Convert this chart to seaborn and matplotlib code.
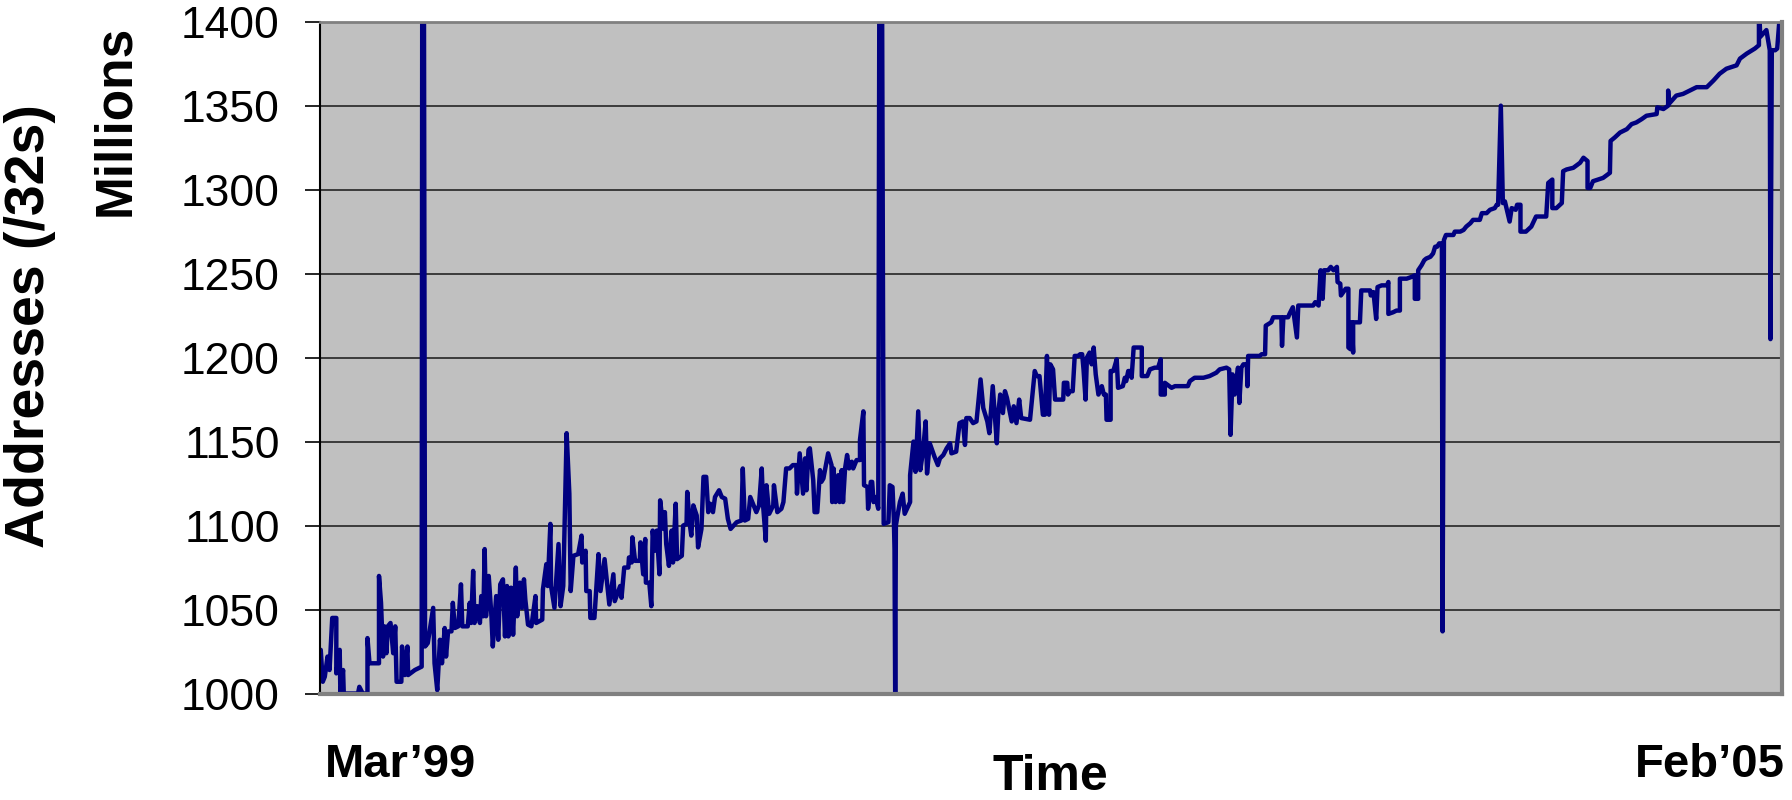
import matplotlib
matplotlib.use("Agg")
import matplotlib.pyplot as plt
import seaborn as sns
import pandas as pd

# days since 1 Mar 1999, value in millions of addresses (/32s)
days = [
    1, 4, 7, 11, 14, 18, 24, 24, 29, 30, 34, 35, 56, 58, 63, 70, 70, 73, 87, 87,
    90, 93, 95, 98, 100, 104, 108, 111, 113, 120, 121, 125, 129, 130, 140, 150, 151, 153, 155, 159,
    167, 169, 173, 177, 180, 184, 186, 189, 194, 196, 199, 204, 208, 210, 218, 221, 223, 226, 228, 232,
    236, 238, 241, 243, 245, 249, 253, 255, 260, 263, 266, 270, 273, 276, 278, 282, 285, 289, 291, 295,
    298, 301, 303, 307, 312, 318, 319, 328, 329, 334, 336, 340, 341, 346, 352, 355, 359, 364,
    368, 370, 374, 381, 386, 387, 392, 393, 398, 399, 405, 407, 411, 414, 420, 427, 433, 435, 443, 445,
    449, 455, 456, 460, 461, 465, 472, 473, 477, 480, 481, 486, 489, 491, 494, 497, 501, 502, 507, 509,
    511, 515, 519, 521, 525, 527, 534, 536, 541, 542, 546, 548, 551, 556, 558, 563, 566, 570, 573, 576,
    580, 583, 589, 593, 598, 600, 602, 606, 615, 622, 624, 627, 632, 635, 638, 644, 648, 652, 654, 658,
    659, 663, 669, 670, 675, 681, 684, 688, 693, 698, 703, 704, 708, 713, 716, 718, 721,
    723, 728, 730, 734, 738, 740, 743, 750, 755, 756, 758, 761, 765, 767, 770, 772, 775, 778, 781, 785,
    787, 792, 797, 797, 802, 803, 808, 809, 813, 815, 817, 820, 824, 826, 829, 832, 839, 841, 845, 847,
    848, 849, 850, 852, 856, 860, 863, 871, 871, 876, 879, 883, 886, 890, 894, 896, 900, 907, 912, 915,
    920, 925, 930, 932, 939, 944, 949, 952, 954, 959, 964, 969, 975, 979, 985, 988, 993, 996, 999, 1001,
    1004, 1008, 1011, 1014, 1018, 1021, 1024, 1028, 1032, 1035, 1048, 1055, 1058, 1062, 1067, 1070, 1073, 1076, 1078, 1082,
    1085, 1094, 1097, 1098, 1103, 1104, 1107, 1111, 1114, 1119, 1122, 1125, 1127, 1130, 1132, 1136, 1139, 1142, 1145, 1149,
    1154, 1157, 1160, 1161, 1167, 1167, 1171, 1176, 1178, 1185, 1188, 1190, 1193, 1196, 1198, 1201, 1213, 1213, 1221, 1225,
    1232, 1237, 1241, 1241, 1247, 1247, 1257, 1262, 1272, 1281, 1284, 1291, 1304, 1313, 1323, 1328, 1338, 1342, 1344, 1347,
    1350, 1355, 1357, 1360, 1363, 1368, 1369, 1370, 1377, 1387, 1390, 1395, 1396, 1400, 1404, 1407, 1417, 1419, 1420, 1422,
    1429, 1431, 1436, 1442, 1444,
    1447, 1466, 1469, 1474, 1477, 1480, 1482, 1488, 1492, 1496, 1501, 1502, 1506, 1507, 1514, 1518, 1518, 1521, 1523, 1525,
    1525, 1535, 1537, 1545, 1550, 1551, 1555, 1559, 1561, 1567, 1575, 1577, 1577, 1584, 1589, 1594, 1594, 1604, 1611, 1616,
    1616, 1621, 1621, 1626, 1630, 1633, 1639, 1643, 1646, 1649, 1652, 1656, 1657, 1659, 1662, 1673, 1675, 1683, 1688, 1692,
    1698, 1702, 1712, 1715, 1722, 1727, 1734, 1737, 1739, 1743, 1746, 1749, 1756, 1759, 1765, 1767, 1772, 1772, 1780, 1788,
    1795, 1810,
    1813, 1819, 1819, 1825, 1833, 1835, 1840, 1850, 1860, 1865, 1871, 1871, 1875, 1879, 1894, 1904, 1905, 1911, 1919, 1929,
    1936, 1943, 1951, 1958, 1973, 1974, 1983, 1990, 1990, 1991, 2002, 2012, 2022, 2032, 2047, 2057, 2066, 2076, 2091, 2096,
    2106, 2118, 2124, 2124, 2126, 2135, 2140, 2141, 2143, 2148, 2151, 2156,
]

addresses = [
    1026, 1007, 1010, 1022, 1014, 1045, 1045, 1012, 1026, 1000, 1014, 1000, 1000, 1004, 1000, 1000, 1033, 1018, 1018, 1070,
    1054, 1022, 1040, 1024, 1040, 1042, 1024, 1040, 1007, 1007, 1028, 1011, 1028, 1011, 1014, 1016, 1500, 1500, 1028, 1030,
    1051, 1018, 1002, 1032, 1018, 1039, 1022, 1037, 1037, 1054, 1039, 1040, 1065, 1040, 1040, 1054, 1042, 1073, 1042, 1052,
    1042, 1058, 1046, 1086, 1046, 1070, 1046, 1028, 1058, 1032, 1065, 1068, 1034, 1064, 1034, 1063, 1035, 1075, 1046, 1066,
    1051, 1068, 1056, 1041, 1040, 1058, 1042, 1044, 1062, 1077, 1064, 1101, 1064, 1051, 1089, 1052, 1064, 1155,
    1119, 1061, 1082, 1083, 1094, 1078, 1085, 1061, 1061, 1045, 1045, 1058, 1083, 1061, 1080, 1053, 1071, 1055, 1064, 1057,
    1075, 1075, 1081, 1078, 1093, 1079, 1079, 1090, 1071, 1092, 1066, 1066, 1052, 1097, 1085, 1097, 1071, 1115, 1098, 1108,
    1089, 1076, 1097, 1078, 1113, 1080, 1082, 1100, 1101, 1120, 1100, 1094, 1112, 1106, 1087, 1098, 1129, 1129, 1108, 1113,
    1108, 1117, 1121, 1117, 1116, 1110, 1104, 1098, 1102, 1103, 1134, 1103, 1104, 1117, 1114, 1108, 1112, 1134, 1112, 1091,
    1124, 1107, 1112, 1124, 1108, 1110, 1114, 1134, 1134, 1136, 1136, 1119, 1143, 1119, 1140, 1121, 1145,
    1146, 1127, 1108, 1108, 1133, 1126, 1128, 1143, 1136, 1114, 1134, 1114, 1130, 1114, 1133, 1114, 1134, 1142, 1134, 1138,
    1134, 1139, 1139, 1151, 1168, 1124, 1123, 1110, 1126, 1126, 1114, 1117, 1110, 1500, 1500, 1101, 1102, 1124, 1123, 1104,
    1086, 998, 1100, 1105, 1114, 1119, 1107, 1114, 1130, 1150, 1132, 1168, 1133, 1144, 1162, 1131, 1149, 1141, 1136, 1140,
    1142, 1146, 1149, 1143, 1144, 1161, 1162, 1148, 1164, 1164, 1161, 1162, 1187, 1170, 1162, 1155, 1183, 1166, 1149, 1166,
    1178, 1167, 1180, 1176, 1168, 1162, 1171, 1161, 1175, 1164, 1163, 1192, 1189, 1189, 1166, 1166, 1201, 1166, 1196, 1193,
    1175, 1175, 1175, 1185, 1185, 1178, 1180, 1180, 1201, 1201, 1202, 1202, 1193, 1175, 1200, 1203, 1196, 1206, 1190, 1178,
    1183, 1178, 1178, 1163, 1163, 1192, 1192, 1199, 1182, 1183, 1188, 1186, 1192, 1192, 1188, 1206, 1206, 1189, 1189, 1193,
    1194, 1194, 1199, 1178, 1178, 1185, 1182, 1183, 1183, 1183, 1186, 1188, 1188, 1189, 1191, 1193, 1194, 1193, 1154, 1190,
    1178, 1194, 1173, 1194, 1196, 1196, 1183, 1201, 1201, 1201, 1202, 1202, 1219, 1220, 1221, 1224, 1224, 1224, 1207, 1224,
    1224, 1226, 1230, 1212, 1231,
    1231, 1231, 1233, 1231, 1252, 1235, 1252, 1252, 1254, 1252, 1254, 1245, 1244, 1237, 1241, 1241, 1206, 1205, 1221, 1203,
    1221, 1221, 1240, 1240, 1240, 1237, 1239, 1223, 1242, 1243, 1243, 1245, 1226, 1227, 1228, 1228, 1247, 1247, 1248, 1249,
    1235, 1235, 1252, 1255, 1258, 1259, 1260, 1262, 1266, 1266, 1268, 1268, 1037, 1270, 1273, 1273, 1275, 1275, 1276, 1278,
    1280, 1282, 1282, 1286, 1286, 1288, 1289, 1291, 1291, 1350, 1292, 1293, 1281, 1289, 1288, 1291, 1291, 1275, 1275, 1278,
    1284, 1284,
    1304, 1306, 1289, 1289, 1292, 1311, 1312, 1313, 1316, 1319, 1317, 1301, 1301, 1305, 1307, 1310, 1329, 1331, 1334, 1336,
    1339, 1340, 1342, 1344, 1345, 1349, 1348, 1350, 1359, 1351, 1356, 1357, 1359, 1361, 1361, 1365, 1369, 1372, 1374, 1378,
    1381, 1384, 1386, 1410, 1391, 1395, 1383, 1211, 1383, 1383, 1384, 1410,
]

y_ticks = [1000, 1050, 1100, 1150, 1200, 1250, 1300, 1350, 1400]

df = pd.DataFrame({"day": days, "addresses": addresses})

sns.set_style("white")
plt.rcParams["font.family"] = ["Liberation Sans", "DejaVu Sans"]
plt.rcParams["text.color"] = "black"

fig = plt.figure(figsize=(17.92, 8), dpi=100)
ax = fig.add_axes([0.1786, 0.1331, 0.8158, 0.8398])
ax.set_facecolor("#C0C0C0")

sns.lineplot(data=df, x="day", y="addresses", estimator=None, sort=False,
             color="#000080", linewidth=3.2, ax=ax)

ax.set_xlim(0, 2158)
ax.set_ylim(1000, 1400)
ax.set_yticks(y_ticks)
ax.set_xticks([])
ax.set_xlabel("")
ax.set_ylabel("")
ax.yaxis.grid(True, color="#303030", linewidth=1.3)
ax.set_axisbelow(True)
ax.tick_params(axis="y", direction="out", length=11, width=1.2, color="black",
               labelcolor="black", labelsize=32, pad=18, left=True)

for side in ["right", "bottom"]:
    ax.spines[side].set_color("#808080")
    ax.spines[side].set_linewidth(3)
ax.spines["top"].set_color("#808080")
ax.spines["top"].set_linewidth(2)
ax.spines["left"].set_color("black")
ax.spines["left"].set_linewidth(1.5)

fig.text(0.0167, 0.5925, "Addresses (/32s)", rotation=90, ha="center", va="center",
         fontsize=40, fontweight="bold", color="black")
fig.text(0.0647, 0.85, "Millions", rotation=90, ha="center", va="center",
         fontsize=37, fontweight="bold", color="black")
fig.text(0.1814, 0.029, "Mar\u201999", ha="left", va="baseline", fontsize=34,
         fontweight="bold", color="black")
fig.text(0.9961, 0.029, "Feb\u201905", ha="right", va="baseline", fontsize=34,
         fontweight="bold", color="black")
fig.text(0.586, 0.013, "Time", ha="center", va="baseline", fontsize=36,
         fontweight="bold", color="black")

fig.savefig("out.png", dpi=100)
